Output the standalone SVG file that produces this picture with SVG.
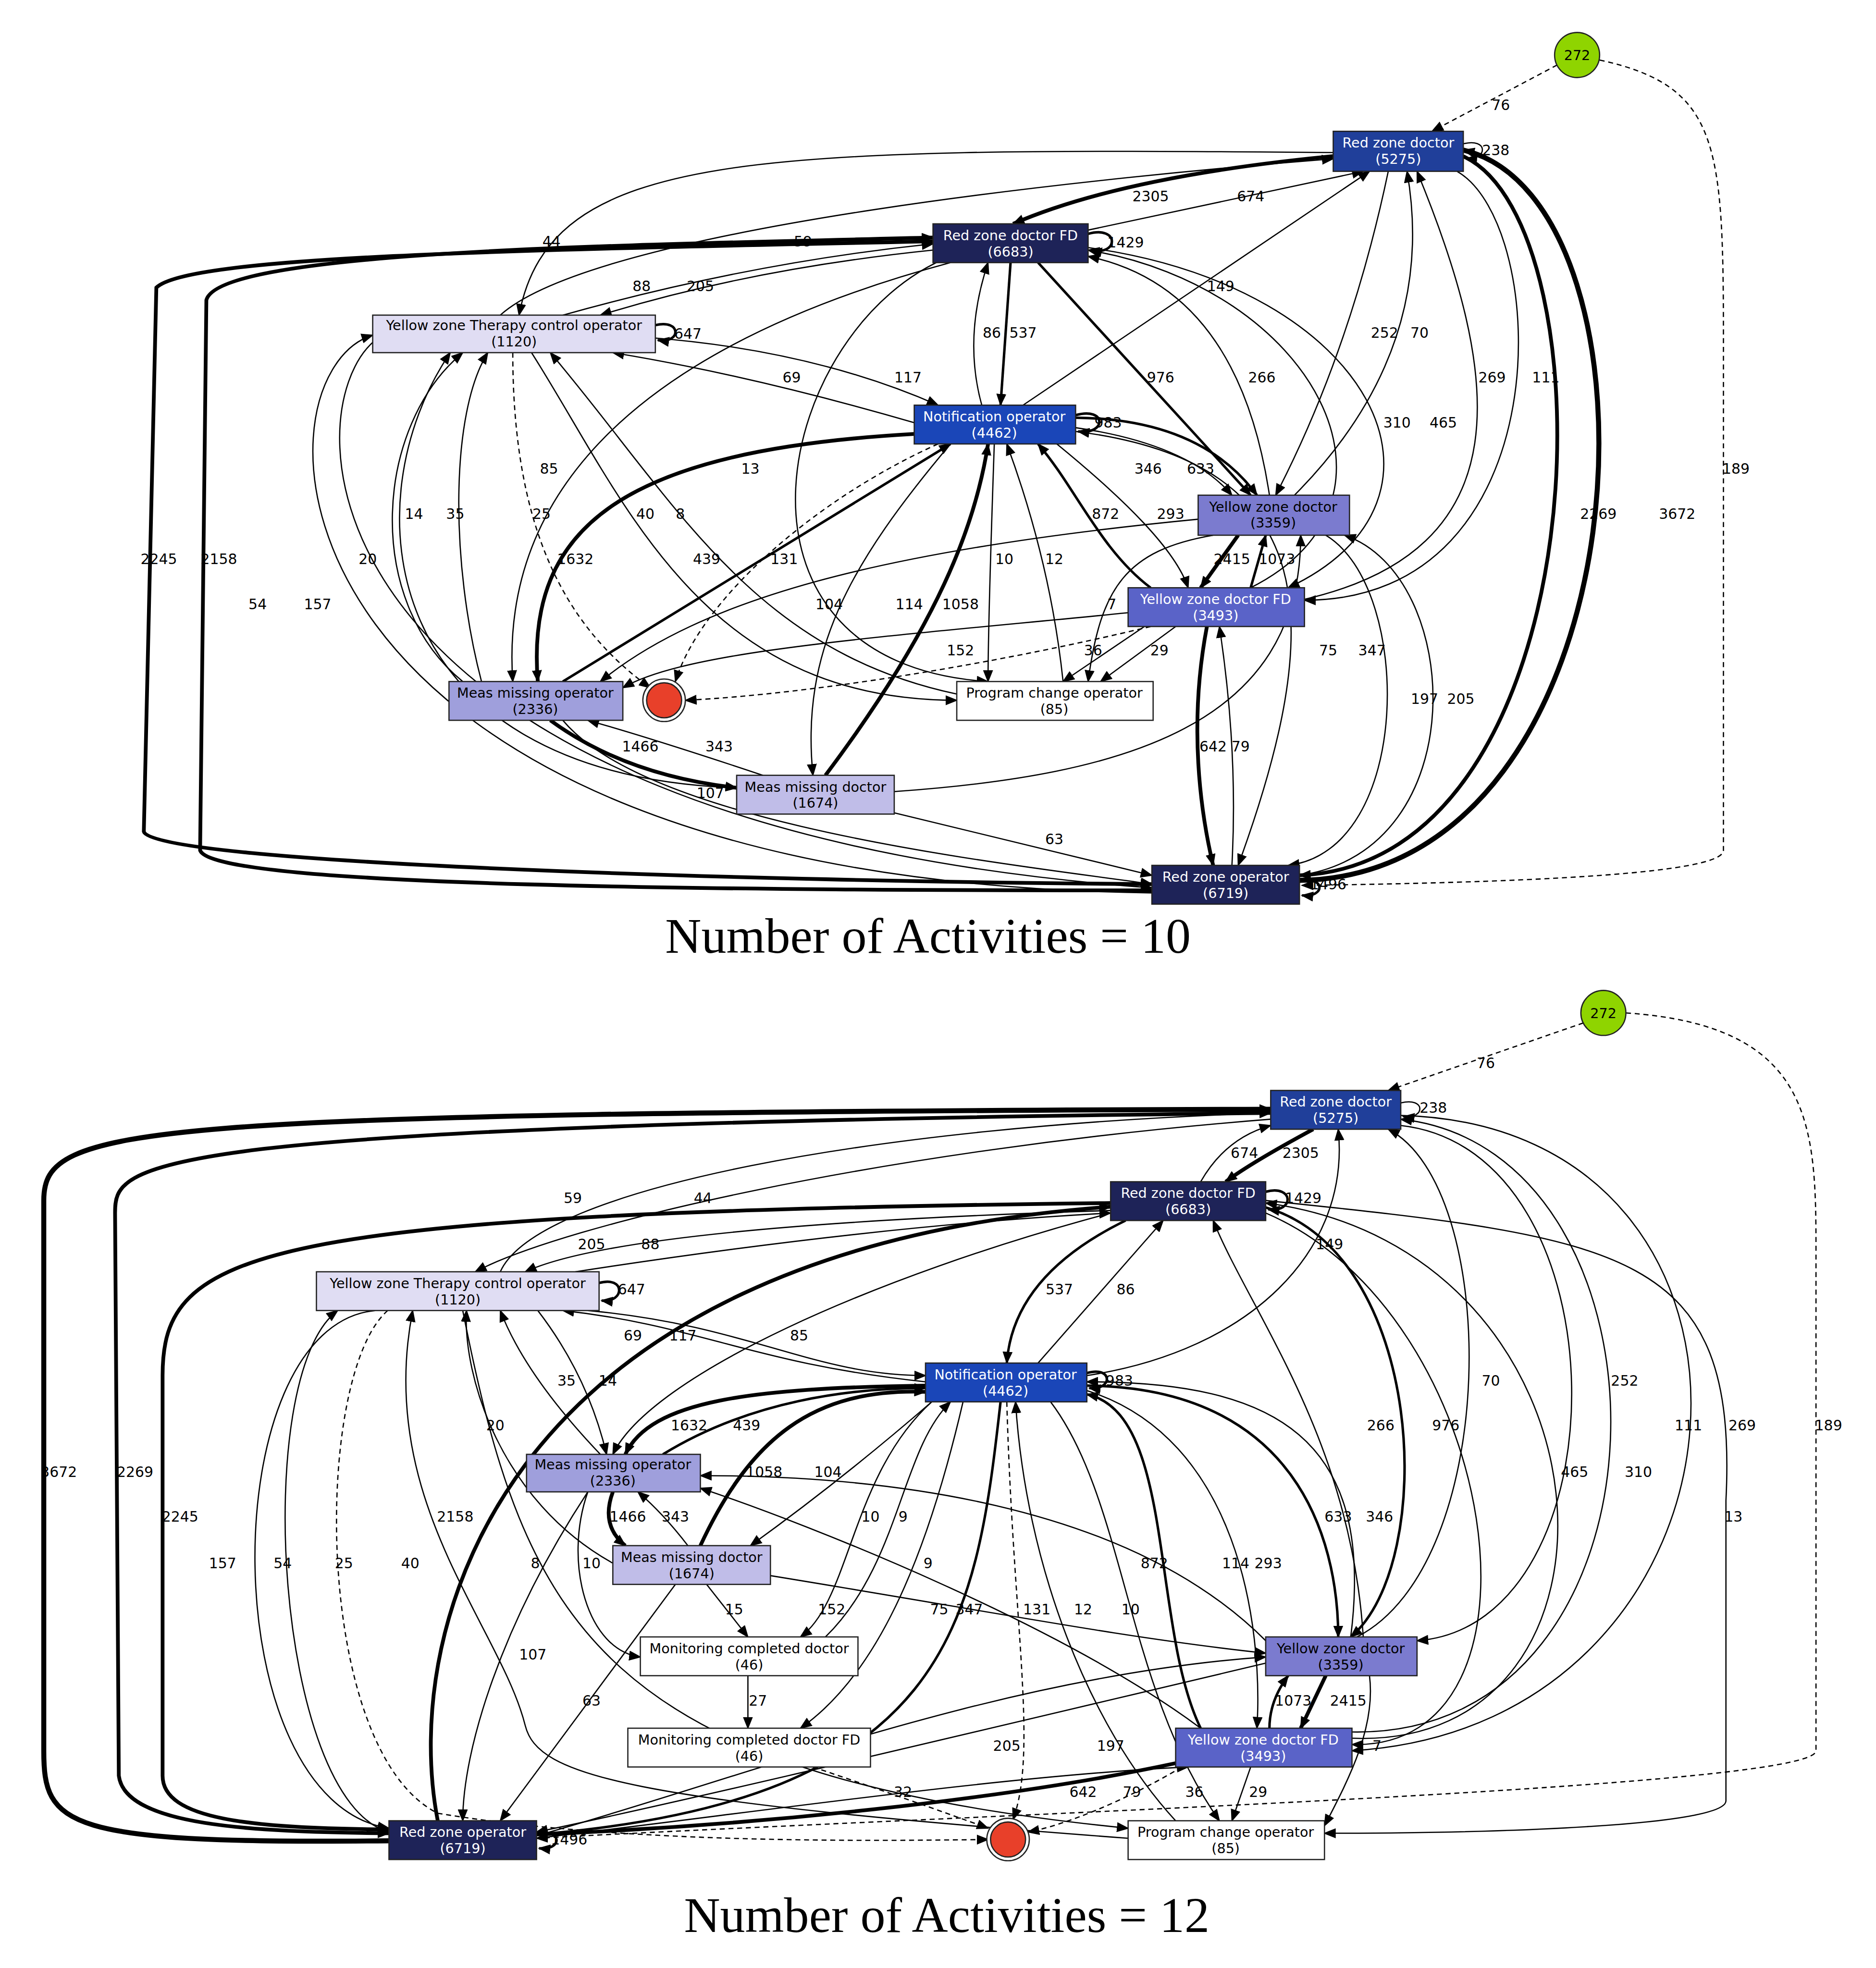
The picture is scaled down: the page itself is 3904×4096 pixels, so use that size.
<svg xmlns="http://www.w3.org/2000/svg" width="3904" height="4096" viewBox="0 0 3904 4096">
<style>
.n rect{stroke:#222;stroke-width:1}
.n text,.lb text{font-family:"DejaVu Sans",sans-serif;font-size:11px;text-anchor:middle}
.w text{fill:#fff}.k text{fill:#000}
.lb text{font-size:11.5px;fill:#000}
path{fill:none;stroke:#000;stroke-width:1;marker-end:url(#a)}
.m{stroke-width:2}.t{stroke-width:3}.x{stroke-width:4}.d{stroke-dasharray:4,3}
.ttl{font-family:"Liberation Serif",serif;font-size:40px;text-anchor:middle}
</style>
<defs><marker id="a" markerUnits="userSpaceOnUse" markerWidth="10" markerHeight="8" refX="9" refY="4" orient="auto"><polygon points="0,0 10,4 0,8" fill="#000"/></marker></defs>
<rect width="3904" height="4096" fill="#fff"/>
<g transform="scale(2.6027)">
<g id="connectors">
<!-- top -->
<path class="d" d="M1245,52 L1145,105"/>
<path class="d" d="M1279,48 C1380,70 1378,120 1378,300 L1378,680 C1378,700 1200,706 1041,708"/>
<path d="M1170,115 C1190,110 1190,128 1172,127"/>
<path class="t" d="M1075,124 Q900,140 810,179"/>
<path d="M870,184 L1090,137"/>
<path d="M1066,122 C600,118 440,120 415,252"/>
<path d="M400,252 C480,180 900,140 1066,127"/>
<path class="m" d="M870,187 C895,180 895,205 872,200"/>
<path d="M450,252 Q600,210 746,195"/>
<path d="M746,200 Q600,215 480,252"/>
<path class="t" d="M746,193 C400,200 150,205 125,230 L115,665 C120,690 600,705 921,707"/>
<path class="t" d="M921,712 C600,712 170,710 160,680 L165,240 C175,200 500,196 746,190"/>
<path class="m" d="M808,210 L800,324"/>
<path d="M785,324 Q770,270 790,210"/>
<path class="m" d="M830,210 L1000,396"/>
<path d="M1015,396 Q990,230 870,205"/>
<path d="M1000,470 C1140,400 1050,230 870,200"/>
<path d="M870,198 C1100,230 1180,400 1030,470"/>
<path d="M818,324 L1095,137"/>
<path d="M1110,137 Q1080,280 1020,396"/>
<path d="M1035,396 Q1150,280 1125,137"/>
<path d="M1040,480 C1220,440 1200,300 1133,137"/>
<path d="M1165,137 C1240,180 1250,480 1043,480"/>
<path class="t" d="M1170,125 C1290,180 1280,690 1039,700"/>
<path class="x" d="M1039,704 C1320,700 1340,160 1170,120"/>
<path class="m" d="M524,260 C545,255 545,275 526,272"/>
<path d="M520,270 Q650,280 750,324"/>
<path d="M731,338 Q600,300 490,282"/>
<path d="M760,210 C500,280 400,400 410,545"/>
<path d="M370,545 C290,480 300,340 370,282"/>
<path d="M385,545 C360,450 360,330 390,282"/>
<path class="d" d="M410,282 C410,420 450,500 520,550"/>
<path d="M425,282 C500,400 560,560 765,560"/>
<path d="M765,555 C600,520 540,400 440,282"/>
<path d="M760,205 C620,260 560,530 790,545"/>
<path class="t" d="M731,347 C500,360 420,420 430,545"/>
<path class="m" d="M450,545 L760,355"/>
<path class="d" d="M750,355 C650,400 560,480 540,545"/>
<path d="M760,355 C680,450 640,520 650,620"/>
<path class="t" d="M660,620 C750,500 780,420 790,355"/>
<path d="M795,355 Q790,500 790,545"/>
<path d="M850,545 Q840,450 805,355"/>
<path class="m" d="M860,332 C885,325 885,348 862,345"/>
<path d="M860,342 Q950,355 985,396"/>
<path class="m" d="M860,334 Q960,335 1005,396"/>
<path class="m" d="M920,470 C880,440 860,390 830,355"/>
<path d="M845,355 C900,400 940,440 950,470"/>
<path class="t" d="M990,428 L960,470"/>
<path class="m" d="M1000,470 L1012,428"/>
<path d="M960,415 C700,440 560,480 480,545"/>
<path d="M902,490 C700,510 550,520 498,550"/>
<path d="M860,345 C1060,370 1060,500 990,692"/>
<path d="M970,428 C900,440 880,470 870,545"/>
<path d="M940,501 L880,545"/>
<path d="M915,501 L850,545"/>
<path class="d" d="M920,501 C800,530 650,555 548,560"/>
<path class="t" d="M965,501 C950,580 960,650 970,692"/>
<path d="M985,692 Q990,600 975,501"/>
<path d="M715,633 C900,620 1040,580 1040,428"/>
<path d="M1060,428 C1130,470 1130,680 1030,692"/>
<path d="M1039,700 C1180,680 1170,460 1075,428"/>
<path class="t" d="M440,576 Q500,620 589,630"/>
<path d="M610,620 Q520,590 470,576"/>
<path d="M450,576 C520,660 800,690 921,707"/>
<path d="M715,650 L921,700"/>
<path d="M300,272 C230,330 240,660 921,710"/>
<path d="M921,714 C200,705 195,300 298,268"/>
<path d="M589,630 C300,620 280,400 360,282"/>
<path class="m" d="M1039,705 C1060,700 1060,718 1041,716"/>
<!-- bottom -->
<path class="d" d="M1266,818 L1110,872"/>
<path class="d" d="M1300,810 C1450,820 1452,900 1452,1000 L1452,1400 C1452,1430 800,1450 429,1470"/>
<path d="M1120,882 C1140,877 1140,895 1122,893"/>
<path class="t" d="M1050,903 Q1000,930 980,945"/>
<path d="M960,945 Q980,910 1016,900"/>
<path class="x" d="M311,1472 C50,1475 35,1460 35,1400 L35,960 C35,900 100,890 1016,887"/>
<path class="t" d="M1016,890 C100,900 92,930 92,970 L95,1420 C100,1460 200,1465 311,1466"/>
<path class="t" d="M888,962 C200,970 130,1000 130,1100 L130,1420 C130,1455 200,1462 311,1463"/>
<path class="t" d="M350,1456 C320,1300 400,1000 888,965"/>
<path d="M400,1017 C430,950 700,900 1016,890"/>
<path d="M1016,895 C700,920 450,980 380,1017"/>
<path d="M888,968 Q500,980 420,1017"/>
<path d="M460,1017 Q700,980 888,970"/>
<path class="m" d="M1012,953 C1035,947 1035,970 1014,967"/>
<path class="m" d="M479,1026 C500,1020 500,1042 481,1040"/>
<path class="m" d="M900,976 Q810,1020 805,1090"/>
<path d="M830,1090 L930,976"/>
<path d="M869,1100 C1000,1080 1080,1000 1070,903"/>
<path d="M1085,1309 C1200,1250 1200,950 1110,903"/>
<path d="M1120,900 C1300,920 1300,1300 1133,1312"/>
<path d="M1090,1309 C1080,1150 1000,1050 970,976"/>
<path class="m" d="M1010,965 C1140,1000 1150,1250 1080,1309"/>
<path d="M1012,970 C1200,1050 1250,1400 1081,1395"/>
<path d="M1081,1390 C1320,1400 1300,1000 1012,962"/>
<path d="M1081,1385 C1350,1390 1350,920 1120,895"/>
<path d="M1120,892 C1450,900 1420,1380 1081,1400"/>
<path d="M1012,960 C1300,990 1390,1000 1380,1200 L1380,1440 C1380,1460 1200,1466 1059,1466"/>
<path d="M740,1105 C600,1090 560,1060 450,1048"/>
<path d="M470,1048 C600,1060 650,1100 740,1100"/>
<path d="M888,970 C700,1020 520,1100 490,1163"/>
<path d="M480,1163 Q420,1100 400,1048"/>
<path d="M430,1048 Q470,1100 485,1163"/>
<path d="M490,1250 C400,1200 370,1100 373,1048"/>
<path class="t" d="M740,1108 C600,1110 520,1120 500,1163"/>
<path class="m" d="M530,1163 C600,1120 680,1110 740,1110"/>
<path class="t" d="M560,1236 C600,1150 650,1110 740,1113"/>
<path d="M745,1121 C700,1160 650,1200 600,1236"/>
<path class="m" d="M869,1098 C890,1092 890,1112 871,1110"/>
<path class="t" d="M490,1193 Q480,1220 500,1236"/>
<path d="M550,1236 Q530,1210 510,1193"/>
<path d="M470,1193 C450,1250 470,1320 512,1325"/>
<path d="M1012,1312 C900,1200 700,1180 560,1180"/>
<path d="M960,1382 C850,1300 650,1220 560,1190"/>
<path d="M745,1121 C680,1180 680,1280 640,1309"/>
<path d="M660,1309 C720,1250 720,1160 760,1121"/>
<path d="M770,1121 C740,1250 700,1340 640,1382"/>
<path d="M565,1267 L598,1309"/>
<path d="M616,1260 C800,1290 900,1310 1012,1322"/>
<path class="m" d="M800,1121 C780,1300 760,1440 429,1467"/>
<path d="M598,1340 L598,1382"/>
<path class="d" d="M650,1413 Q730,1440 790,1462"/>
<path class="d" d="M805,1121 C810,1300 830,1400 810,1455"/>
<path d="M940,1456 C870,1380 820,1250 812,1121"/>
<path d="M840,1121 C900,1200 900,1350 975,1456"/>
<path class="m" d="M960,1382 C920,1300 940,1130 869,1115"/>
<path d="M869,1112 C990,1150 1010,1300 1005,1382"/>
<path class="m" d="M869,1108 C1050,1110 1070,1250 1070,1309"/>
<path d="M1080,1309 C1100,1150 1020,1105 869,1105"/>
<path class="t" d="M1060,1340 L1040,1382"/>
<path class="m" d="M1015,1382 Q1015,1360 1030,1340"/>
<path d="M1095,1340 C1100,1380 1080,1420 1059,1460"/>
<path d="M1000,1413 L985,1456"/>
<path class="d" d="M945,1413 C900,1440 850,1460 822,1465"/>
<path class="t" d="M940,1410 C800,1440 600,1460 429,1467"/>
<path d="M429,1470 C600,1450 800,1420 950,1413"/>
<path d="M1012,1330 C800,1380 550,1440 429,1465"/>
<path d="M429,1468 C600,1420 800,1340 1012,1325"/>
<path d="M300,1048 C170,1060 170,1440 311,1462"/>
<path d="M311,1465 C220,1440 200,1100 270,1048"/>
<path class="d" d="M310,1048 C250,1100 250,1400 350,1450 C500,1475 700,1472 790,1471"/>
<path d="M902,1470 C500,1440 430,1420 420,1380 C400,1300 300,1200 330,1048"/>
<path d="M370,1048 C420,1300 480,1420 902,1462"/>
<path d="M470,1193 C400,1300 370,1400 370,1456"/>
<path d="M540,1267 L400,1456"/>
<path class="m" d="M429,1466 C450,1462 450,1480 431,1478"/>
</g>
<g class="lb">
<text x="1200" y="88">76</text><text x="1388" y="379">189</text><text x="1196" y="124">238</text>
<text x="920" y="161">2305</text><text x="1000" y="161">674</text><text x="441" y="197">44</text><text x="642" y="197">59</text>
<text x="900" y="198">1429</text><text x="513" y="233">88</text><text x="560" y="233">205</text><text x="127" y="451">2245</text><text x="175" y="451">2158</text>
<text x="818" y="270">537</text><text x="793" y="270">86</text><text x="928" y="306">976</text><text x="1009" y="306">266</text><text x="1117" y="342">310</text><text x="1154" y="342">465</text>
<text x="976" y="233">149</text><text x="1107" y="270">252</text><text x="1135" y="270">70</text><text x="1193" y="306">269</text><text x="1236" y="306">111</text><text x="1278" y="415">2269</text><text x="1341" y="415">3672</text>
<text x="550" y="271">647</text><text x="726" y="306">117</text><text x="633" y="306">69</text><text x="439" y="379">85</text><text x="331" y="415">14</text><text x="364" y="415">35</text><text x="433" y="415">25</text><text x="516" y="415">40</text><text x="544" y="415">8</text><text x="600" y="379">13</text>
<text x="460" y="451">1632</text><text x="565" y="451">439</text><text x="627" y="451">131</text><text x="663" y="487">104</text><text x="768" y="487">1058</text><text x="803" y="451">10</text><text x="843" y="451">12</text><text x="886" y="342">983</text>
<text x="918" y="379">346</text><text x="960" y="379">633</text><text x="884" y="415">872</text><text x="936" y="415">293</text><text x="985" y="451">2415</text><text x="1021" y="451">1073</text>
<text x="727" y="487">114</text><text x="768" y="524">152</text><text x="1097" y="524">347</text><text x="889" y="487">7</text><text x="927" y="524">29</text><text x="874" y="524">36</text>
<text x="970" y="601">642</text><text x="992" y="601">79</text><text x="1062" y="524">75</text><text x="1139" y="563">197</text><text x="1168" y="563">205</text>
<text x="512" y="601">1466</text><text x="575" y="601">343</text><text x="568" y="638">107</text><text x="843" y="675">63</text><text x="254" y="487">157</text><text x="206" y="487">54</text><text x="294" y="451">20</text><text x="1062" y="711">1496</text>
<!-- bottom -->
<text x="1188" y="854">76</text><text x="1462" y="1144">189</text><text x="1146" y="890">238</text><text x="1040" y="926">2305</text><text x="995" y="926">674</text>
<text x="47" y="1181">3672</text><text x="108" y="1181">2269</text><text x="144" y="1217">2245</text><text x="364" y="1217">2158</text>
<text x="458" y="962">59</text><text x="562" y="962">44</text><text x="473" y="999">205</text><text x="520" y="999">88</text><text x="1042" y="962">1429</text><text x="505" y="1035">647</text>
<text x="847" y="1035">537</text><text x="900" y="1035">86</text><text x="1063" y="999">149</text><text x="1192" y="1108">70</text><text x="1299" y="1108">252</text><text x="1104" y="1144">266</text><text x="1156" y="1144">976</text>
<text x="1259" y="1181">465</text><text x="1310" y="1181">310</text><text x="1350" y="1144">111</text><text x="1393" y="1144">269</text><text x="1386" y="1217">13</text>
<text x="506" y="1072">69</text><text x="546" y="1072">117</text><text x="639" y="1072">85</text><text x="453" y="1108">35</text><text x="486" y="1108">14</text><text x="396" y="1144">20</text>
<text x="551" y="1144">1632</text><text x="597" y="1144">439</text><text x="611" y="1181">1058</text><text x="662" y="1181">104</text><text x="895" y="1108">983</text><text x="502" y="1217">1466</text><text x="540" y="1217">343</text>
<text x="473" y="1254">10</text><text x="988" y="1254">114</text><text x="665" y="1291">152</text><text x="696" y="1217">10</text><text x="722" y="1217">9</text><text x="742" y="1254">9</text><text x="587" y="1291">15</text>
<text x="751" y="1291">75</text><text x="775" y="1291">347</text><text x="606" y="1364">27</text><text x="722" y="1437">32</text><text x="829" y="1291">131</text><text x="866" y="1291">12</text><text x="904" y="1291">10</text>
<text x="923" y="1254">872</text><text x="1014" y="1254">293</text><text x="1070" y="1217">633</text><text x="1103" y="1217">346</text><text x="1078" y="1364">2415</text><text x="1034" y="1364">1073</text>
<text x="1101" y="1400">7</text><text x="1006" y="1437">29</text><text x="955" y="1437">36</text><text x="866" y="1437">642</text><text x="905" y="1437">79</text><text x="888" y="1400">197</text><text x="805" y="1400">205</text>
<text x="178" y="1254">157</text><text x="226" y="1254">54</text><text x="275" y="1254">25</text><text x="328" y="1254">40</text><text x="428" y="1254">8</text><text x="426" y="1327">107</text><text x="473" y="1364">63</text><text x="455" y="1475">1496</text>
</g>
<!-- nodes top -->
<g id="t_start" class="n k"><circle cx="1261" cy="44" r="18" fill="#8fd400" stroke="#222"/><text x="1261" y="48">272</text></g>
<g id="t_rzd" class="n w"><rect x="1066" y="105" width="104" height="32" fill="#203f9a"/><text x="1118" y="118">Red zone doctor</text><text x="1118" y="131">(5275)</text></g>
<g id="t_rzdfd" class="n w"><rect x="746" y="179" width="124" height="31" fill="#1e2358"/><text x="808" y="192">Red zone doctor FD</text><text x="808" y="205">(6683)</text></g>
<g id="t_yzt" class="n k"><rect x="298" y="252" width="226" height="30" fill="#e0ddf3"/><text x="411" y="264">Yellow zone Therapy control operator</text><text x="411" y="277">(1120)</text></g>
<g id="t_notif" class="n w"><rect x="731" y="324" width="129" height="31" fill="#1a46b8"/><text x="795" y="337">Notification operator</text><text x="795" y="350">(4462)</text></g>
<g id="t_yzd" class="n k"><rect x="958" y="396" width="121" height="32" fill="#7b7bcf"/><text x="1018" y="409">Yellow zone doctor</text><text x="1018" y="422">(3359)</text></g>
<g id="t_yzdfd" class="n w"><rect x="902" y="470" width="141" height="31" fill="#5a63c8"/><text x="972" y="483">Yellow zone doctor FD</text><text x="972" y="496">(3493)</text></g>
<g id="t_mmo" class="n k"><rect x="359" y="545" width="139" height="31" fill="#9f9fdc"/><text x="428" y="558">Meas missing operator</text><text x="428" y="571">(2336)</text></g>
<g id="t_end" class="n"><circle cx="531" cy="560" r="17" fill="#fff" stroke="#222"/><circle cx="531" cy="560" r="14" fill="#e8402a" stroke="#222"/></g>
<g id="t_pco" class="n k"><rect x="765" y="545" width="157" height="31" fill="#fff"/><text x="843" y="558">Program change operator</text><text x="843" y="571">(85)</text></g>
<g id="t_mmd" class="n k"><rect x="589" y="620" width="126" height="31" fill="#c0bde8"/><text x="652" y="633">Meas missing doctor</text><text x="652" y="646">(1674)</text></g>
<g id="t_rzo" class="n w"><rect x="921" y="692" width="118" height="31" fill="#1e2358"/><text x="980" y="705">Red zone operator</text><text x="980" y="718">(6719)</text></g>
<text class="ttl" x="742" y="762">Number of Activities = 10</text>
<!-- nodes bottom -->
<g id="b_start" class="n k"><circle cx="1282" cy="810" r="18" fill="#8fd400" stroke="#222"/><text x="1282" y="814">272</text></g>
<g id="b_rzd" class="n w"><rect x="1016" y="872" width="104" height="31" fill="#203f9a"/><text x="1068" y="885">Red zone doctor</text><text x="1068" y="898">(5275)</text></g>
<g id="b_rzdfd" class="n w"><rect x="888" y="945" width="124" height="31" fill="#1e2358"/><text x="950" y="958">Red zone doctor FD</text><text x="950" y="971">(6683)</text></g>
<g id="b_yzt" class="n k"><rect x="253" y="1017" width="226" height="31" fill="#e0ddf3"/><text x="366" y="1030">Yellow zone Therapy control operator</text><text x="366" y="1043">(1120)</text></g>
<g id="b_notif" class="n w"><rect x="740" y="1090" width="129" height="31" fill="#1a46b8"/><text x="804" y="1103">Notification operator</text><text x="804" y="1116">(4462)</text></g>
<g id="b_mmo" class="n k"><rect x="421" y="1163" width="139" height="30" fill="#9f9fdc"/><text x="490" y="1175">Meas missing operator</text><text x="490" y="1188">(2336)</text></g>
<g id="b_mmd" class="n k"><rect x="490" y="1236" width="126" height="31" fill="#c0bde8"/><text x="553" y="1249">Meas missing doctor</text><text x="553" y="1262">(1674)</text></g>
<g id="b_mcd" class="n k"><rect x="512" y="1309" width="174" height="31" fill="#fff"/><text x="599" y="1322">Monitoring completed doctor</text><text x="599" y="1335">(46)</text></g>
<g id="b_mcdfd" class="n k"><rect x="502" y="1382" width="194" height="31" fill="#fff"/><text x="599" y="1395">Monitoring completed doctor FD</text><text x="599" y="1408">(46)</text></g>
<g id="b_yzd" class="n k"><rect x="1012" y="1309" width="121" height="31" fill="#7b7bcf"/><text x="1072" y="1322">Yellow zone doctor</text><text x="1072" y="1335">(3359)</text></g>
<g id="b_yzdfd" class="n w"><rect x="940" y="1382" width="141" height="31" fill="#5a63c8"/><text x="1010" y="1395">Yellow zone doctor FD</text><text x="1010" y="1408">(3493)</text></g>
<g id="b_rzo" class="n w"><rect x="311" y="1456" width="118" height="31" fill="#1e2358"/><text x="370" y="1469">Red zone operator</text><text x="370" y="1482">(6719)</text></g>
<g id="b_end" class="n"><circle cx="806" cy="1471" r="17" fill="#fff" stroke="#222"/><circle cx="806" cy="1471" r="14" fill="#e8402a" stroke="#222"/></g>
<g id="b_pco" class="n k"><rect x="902" y="1456" width="157" height="31" fill="#fff"/><text x="980" y="1469">Program change operator</text><text x="980" y="1482">(85)</text></g>
<text class="ttl" x="757" y="1545">Number of Activities = 12</text>
</g>
</svg>
